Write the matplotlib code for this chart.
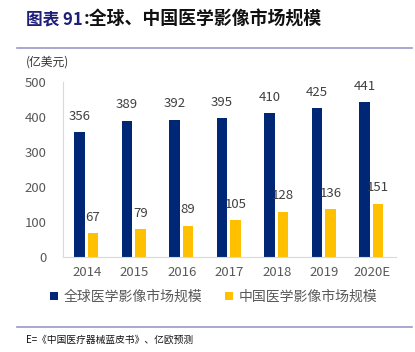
import matplotlib
matplotlib.use("Agg")
import matplotlib.pyplot as plt
import numpy as np
from matplotlib.lines import Line2D

plt.rcParams['font.family'] = ['Noto Sans CJK SC', 'DejaVu Sans']

years = ["2014", "2015", "2016", "2017", "2018", "2019", "2020E"]
global_vals = [356, 389, 392, 395, 410, 425, 441]
china_vals = [67, 79, 89, 105, 128, 136, 151]
series_names = ["全球医学影像市场规模", "中国医学影像市场规模"]
navy = "#002776"
yellow = "#FFC000"

W, H = 415, 352
fig = plt.figure(figsize=(W/100, H/100), dpi=100)

ax = fig.add_axes([63/W, 1-256.7/H, 332.5/W, 175/H])
x = np.arange(len(years))
bw = 0.22
b1 = ax.bar(x - 0.155, global_vals, bw, color=navy)
b2 = ax.bar(x + 0.13, china_vals, bw, color=yellow)
for xi, v in zip(x, global_vals):
    ax.text(xi - 0.155, v + 27, str(v), ha='center', va='bottom', fontsize=9.5, color='#404040')
for xi, v in zip(x, china_vals):
    ax.text(xi + 0.13, v + 27, str(v), ha='center', va='bottom', fontsize=9.5, color='#404040')
ax.set_xlim(-0.5, 6.5)
ax.set_ylim(0, 500)
ax.set_yticks([0, 100, 200, 300, 400, 500])
ax.set_xticks(x)
ax.set_xticklabels(years)
ax.tick_params(axis='both', length=0, labelsize=9.5, colors='#595959')
ax.tick_params(axis='y', pad=12)
ax.tick_params(axis='x', pad=7)
for s in ['top', 'right']:
    ax.spines[s].set_visible(False)
ax.spines['left'].set_color('#D9D9D9')
ax.spines['bottom'].set_color('#D9D9D9')

# title
t1 = fig.text(26/W, 1-20/H, "图表 91", fontsize=12, fontweight='bold', color='#1F1F7A', va='center', ha='left')
fig.canvas.draw()
bb = t1.get_window_extent(fig.canvas.get_renderer())
fig.text(bb.x1/W + 1/W, 1-20/H, ":全球、中国医学影像市场规模", fontsize=12.9, fontweight='bold', color='#111111', va='center', ha='left')
fig.add_artist(Line2D([17/W, 412/W], [1-48/H, 1-48/H], color='#9A98C8', lw=1.2))
fig.text(26/W, 1-62/H, "(亿美元)", fontsize=8.5, color='#333333', va='center', ha='left')

# legend
fig.legend([b1, b2], series_names, loc='center', bbox_to_anchor=(214/W, 1-297/H), ncol=2,
           frameon=False, fontsize=10, handlelength=0.55, handleheight=0.55, handletextpad=0.45,
           columnspacing=1.6, labelcolor='#595959')

fig.add_artist(Line2D([17/W, 412/W], [1-327/H, 1-327/H], color='#9A98C8', lw=1.2))
fig.text(26/W, 1-340/H, "E=《中国医疗器械蓝皮书》、亿欧预测", fontsize=7, color='#111111', va='center', ha='left')

fig.savefig("out.png", dpi=100)
